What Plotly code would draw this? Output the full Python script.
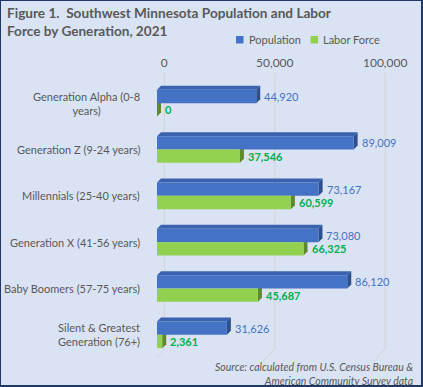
import plotly.graph_objects as go

categories = ["Generation Alpha (0-8<br>years)", "Generation Z (9-24 years)", "Millennials (25-40 years)",
              "Generation X (41-56 years)", "Baby Boomers (57-75 years)", "Silent & Greatest<br>Generation (76+)"]
population = [44920, 89009, 73167, 73080, 86120, 31626]
labor_force = [0, 37546, 60599, 66325, 45687, 2361]
tick_values = [0, 50000, 100000]
tick_labels = ["0", "50,000", "100,000"]

W, H = 423, 387
L, R, T, B = 157, 400, 80, 358
XMAX = 110000
def px(X): return (X - L) / (R - L)
def py(Y): return (B - Y) / (B - T)
ux = XMAX / (R - L)          # data units per pixel (x)
uy = 6 / (B - T)             # data units per pixel (y)

FONT = "Lato"
GRAY = "#595959"
BLUE, BLUE_TOP, BLUE_SIDE = "#4472C4", "#3A62AE", "#2D4F8E"
GREEN, GREEN_SIDE = "#92D050", "#5E8A2C"
BG = "#DAE3F3"

bw = 13.3 * uy
off = bw / 2
dx = 4 * ux
dy = 4 * uy
grid_off = 7.3 * ux

idx = list(range(len(categories)))
yb = [i - off for i in idx]
yg = [i + off for i in idx]

fig = go.Figure()
fig.add_trace(go.Bar(y=yb, x=population, orientation="h", width=bw, marker=dict(color=BLUE, line_width=0),
                     name="Population", showlegend=False, hoverinfo="x"))
fig.add_trace(go.Bar(y=yg, x=labor_force, orientation="h", width=bw, marker=dict(color=GREEN, line_width=0),
                     name="Labor Force", showlegend=False, hoverinfo="x"))

shapes = []
# gridlines (back plane) with slanted floor
for tv in tick_values:
    gx = tv + grid_off
    shapes.append(dict(type="line", xref="x", yref="paper", x0=gx, x1=gx, y0=py(73), y1=py(349),
                       line=dict(color="#D4D4D4", width=1), layer="below"))
    shapes.append(dict(type="line", xref="x", yref="paper", x0=gx, x1=gx - 12 * ux, y0=py(349), y1=py(362),
                       line=dict(color="#D4D4D4", width=1), layer="below"))
# 3D faces
for y, v in zip(yb, population):
    t, b = y - bw / 2, y + bw / 2
    shapes.append(dict(type="path", xref="x", yref="y", layer="below", line_width=0, fillcolor=BLUE_TOP,
                       path=f"M0,{t} L{v},{t} L{v+dx},{t-dy} L{dx},{t-dy} Z"))
    shapes.append(dict(type="path", xref="x", yref="y", layer="below", line_width=0, fillcolor=BLUE_SIDE,
                       path=f"M{v},{t} L{v+dx},{t-dy} L{v+dx},{b-dy} L{v},{b} Z"))
for y, v in zip(yg, labor_force):
    t, b = y - bw / 2, y + bw / 2
    shapes.append(dict(type="path", xref="x", yref="y", layer="below", line_width=0, fillcolor=GREEN_SIDE,
                       path=f"M{v},{t} L{v+dx},{t-dy} L{v+dx},{b-dy} L{v},{b} Z"))
# legend squares
shapes.append(dict(type="rect", xref="paper", yref="paper", x0=px(236), x1=px(243.5), y0=py(36), y1=py(43.5),
                   fillcolor=BLUE, line_width=0))
shapes.append(dict(type="rect", xref="paper", yref="paper", x0=px(310.5), x1=px(318), y0=py(36), y1=py(43.5),
                   fillcolor=GREEN, line_width=0))
# border
shapes.append(dict(type="rect", xref="paper", yref="paper", x0=px(0), x1=px(422), y0=py(0), y1=py(386),
                   fillcolor="rgba(0,0,0,0)", line=dict(color="#1F3864", width=2)))

ann = []
ann.append(dict(text="<b>Figure 1.  Southwest Minnesota Population and Labor<br>Force by Generation, 2021</b>",
                xref="paper", yref="paper", x=px(5), y=py(3), xanchor="left", yanchor="top", align="left",
                showarrow=False, font=dict(family=FONT, size=13.6, color=GRAY)))
ann.append(dict(text="Population", xref="paper", yref="paper", x=px(246.5), y=py(39.5), xanchor="left",
                yanchor="middle", showarrow=False, font=dict(family=FONT, size=11, color=GRAY)))
ann.append(dict(text="Labor Force", xref="paper", yref="paper", x=px(320.5), y=py(39.5), xanchor="left",
                yanchor="middle", showarrow=False, font=dict(family=FONT, size=11, color=GRAY)))
for i, c in zip(idx, categories):
    ann.append(dict(text=c, xref="paper", yref="y", x=0, y=i, xanchor="right", yanchor="middle", xshift=-15,
                    align="center", showarrow=False, font=dict(family=FONT, size=11, color=GRAY)))
for y, v in zip(yb, population):
    ann.append(dict(text=f"{v:,}", xref="x", yref="y", x=v, y=y, xanchor="left", yanchor="middle", xshift=6,
                    showarrow=False, font=dict(family=FONT, size=11, color=BLUE)))
for y, v in zip(yg, labor_force):
    ann.append(dict(text=f"<b>{v:,}</b>", xref="x", yref="y", x=v, y=y, xanchor="left", yanchor="middle", xshift=6,
                    showarrow=False, font=dict(family=FONT, size=11, color="#00B050")))
ann.append(dict(text="<i>Source: calculated from U.S. Census Bureau &<br>American Community Survey data</i>",
                xref="paper", yref="paper", x=px(415), y=py(358.5), xanchor="right", yanchor="top", align="right",
                showarrow=False, font=dict(family=FONT, size=10.5, color=GRAY)))

fig.update_layout(
    width=W, height=H, margin=dict(l=L, r=W - R, t=T, b=H - B),
    paper_bgcolor=BG, plot_bgcolor="rgba(0,0,0,0)",
    barmode="overlay", showlegend=False,
    xaxis=dict(range=[0, XMAX], side="top", tickvals=[t + grid_off for t in tick_values], ticktext=tick_labels,
               showgrid=False, zeroline=False, showline=False, ticks="", ticklabelstandoff=10,
               tickfont=dict(family=FONT, size=12, color=GRAY), fixedrange=True),
    yaxis=dict(range=[5.5, -0.5], showticklabels=False, showgrid=False, zeroline=False, showline=False,
               fixedrange=True),
    shapes=shapes, annotations=ann,
)
fig.write_html("out.html", config={"displayModeBar": False},
               post_script="document.body.style.margin='0';document.body.style.padding='0';document.body.style.overflow='hidden';")
